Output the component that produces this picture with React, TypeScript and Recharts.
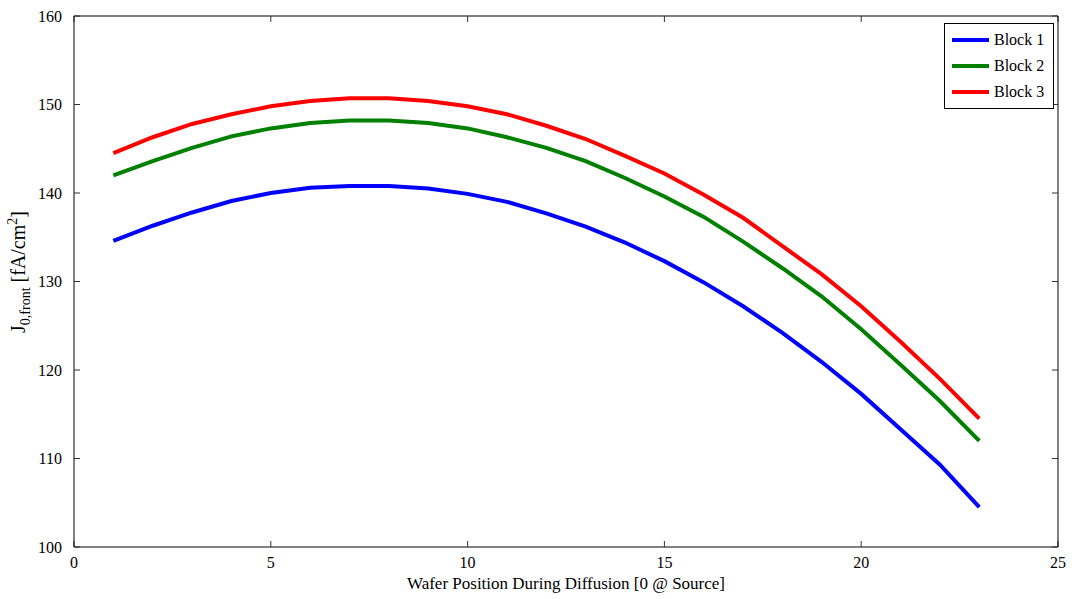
import { Label, Legend, Line, LineChart, XAxis, YAxis } from 'recharts';

document.body.style.margin = '0';

const positions = [1, 2, 3, 4, 5, 6, 7, 8, 9, 10, 11, 12, 13, 14, 15, 16, 17, 18, 19, 20, 21, 22, 23];
const block1 = [134.6, 136.3, 137.8, 139.1, 140.0, 140.6, 140.8, 140.8, 140.5, 139.9, 139.0, 137.7, 136.2, 134.4, 132.3, 129.9, 127.2, 124.2, 120.9, 117.3, 113.3, 109.3, 104.5];
const block2 = [142.0, 143.6, 145.1, 146.4, 147.3, 147.9, 148.2, 148.2, 147.9, 147.3, 146.3, 145.1, 143.6, 141.7, 139.6, 137.3, 134.5, 131.5, 128.3, 124.6, 120.6, 116.5, 112.0];
const block3 = [144.5, 146.3, 147.8, 148.9, 149.8, 150.4, 150.7, 150.7, 150.4, 149.8, 148.9, 147.6, 146.1, 144.2, 142.2, 139.8, 137.2, 134.0, 130.8, 127.2, 123.2, 119.0, 114.5];
const xTicks = [0, 5, 10, 15, 20, 25];
const yTicks = [100, 110, 120, 130, 140, 150, 160];

// each series sits on its own axis pair (same domains) so the frame + inward ticks get drawn
const SERIES = [
  { key: 'b1', name: 'Block 1', color: '#0000ff', xId: 'main', yId: 'main' },
  { key: 'b2', name: 'Block 2', color: '#008000', xId: 'btm', yId: 'lft' },
  { key: 'b3', name: 'Block 3', color: '#ff0000', xId: 'top', yId: 'rgt' },
];

const FONT = '"Liberation Serif", "Times New Roman", serif';
const tickStyle = { fontSize: 16, fill: '#000', fontFamily: FONT };
const tickLine = { stroke: '#333', strokeWidth: 1 };
const noLabel = () => <g />;

function LegendBox() {
  return (
    <div
      style={{
        border: '1px solid #000',
        background: '#fff',
        padding: '3px 9px 3px 7px',
        fontFamily: FONT,
        fontSize: 16,
        color: '#000',
      }}
    >
      {SERIES.map((s) => (
        <div key={s.key} style={{ display: 'flex', alignItems: 'center', height: 26 }}>
          <span style={{ display: 'inline-block', width: 37, height: 4, background: s.color, marginRight: 5 }} />
          <span>{s.name}</span>
        </div>
      ))}
    </div>
  );
}

function YLabel() {
  const x = 25;
  const y = 272;
  return (
    <text
      x={x}
      y={y}
      transform={`rotate(-90, ${x}, ${y})`}
      textAnchor="middle"
      fontFamily={FONT}
      fontSize={20}
      fill="#000"
    >
      <tspan>J</tspan>
      <tspan dy={5} fontSize={14}>0,front</tspan>
      <tspan dy={-5}> [fA/cm</tspan>
      <tspan dy={-8} fontSize={14}>2</tspan>
      <tspan dy={8}>]</tspan>
    </text>
  );
}

export default function App() {
  const data = positions.map((x, i) => ({ x, b1: block1[i], b2: block2[i], b3: block3[i] }));

  return (
    <div style={{ width: 1072, height: 599, background: '#fff' }}>
      <LineChart width={1072} height={599} data={data} margin={{ top: 16, right: 14, left: 14, bottom: 22 }}>
        <XAxis
          xAxisId="main"
          dataKey="x"
          type="number"
          domain={[0, 25]}
          ticks={xTicks}
          height={30}
          stroke="#000"
          tickLine={false}
          tickMargin={4}
          tick={tickStyle}
        >
          <Label
            value="Wafer Position During Diffusion [0 @ Source]"
            position="insideBottom"
            offset={-12}
            style={{ fontSize: 17, fill: '#000', fontFamily: FONT }}
          />
        </XAxis>
        <XAxis
          xAxisId="btm"
          orientation="bottom"
          mirror
          dataKey="x"
          type="number"
          domain={[0, 25]}
          ticks={xTicks}
          axisLine={false}
          tick={noLabel}
          tickSize={6}
          tickLine={tickLine}
        />
        <XAxis
          xAxisId="top"
          orientation="top"
          mirror
          dataKey="x"
          type="number"
          domain={[0, 25]}
          ticks={xTicks}
          stroke="#000"
          tick={noLabel}
          tickSize={6}
          tickLine={tickLine}
        />
        <YAxis
          yAxisId="main"
          type="number"
          domain={[100, 160]}
          ticks={yTicks}
          width={60}
          stroke="#000"
          tickLine={false}
          tickMargin={6}
          tick={tickStyle}
          label={<YLabel />}
        />
        <YAxis
          yAxisId="lft"
          orientation="left"
          mirror
          type="number"
          domain={[100, 160]}
          ticks={yTicks}
          axisLine={false}
          tick={noLabel}
          tickSize={6}
          tickLine={tickLine}
        />
        <YAxis
          yAxisId="rgt"
          orientation="right"
          mirror
          type="number"
          domain={[100, 160]}
          ticks={yTicks}
          stroke="#000"
          tick={noLabel}
          tickSize={6}
          tickLine={tickLine}
        />
        <Legend
          layout="vertical"
          align="center"
          verticalAlign="middle"
          content={() => <LegendBox />}
          wrapperStyle={{ position: 'absolute', left: 944, top: 23, width: 'auto', height: 'auto' }}
        />
        {SERIES.map((s) => (
          <Line
            key={s.key}
            xAxisId={s.xId}
            yAxisId={s.yId}
            dataKey={s.key}
            name={s.name}
            stroke={s.color}
            strokeWidth={4}
            dot={false}
            type="linear"
            isAnimationActive={false}
          />
        ))}
      </LineChart>
    </div>
  );
}
